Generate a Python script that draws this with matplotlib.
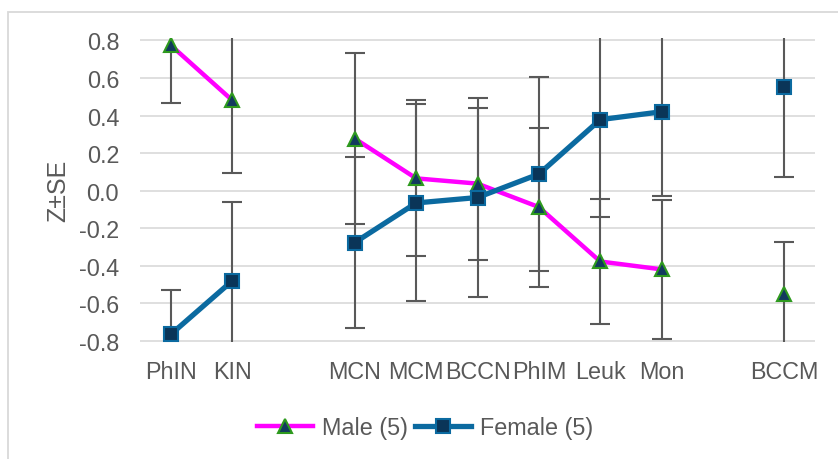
import numpy as np
import matplotlib.pyplot as plt
from matplotlib.patches import Rectangle

plt.rcParams['font.family'] = ['Liberation Sans', 'DejaVu Sans']

categories = ['PhIN', 'KIN', '', 'MCN', 'MCM', 'BCCN', 'PhIM', 'Leuk', 'Mon', '', 'BCCM']
male = [0.775, 0.482, np.nan, 0.277, 0.065, 0.037, -0.088, -0.378, -0.42, np.nan, -0.55]
male_se = [0.307, 0.39, np.nan, 0.457, 0.415, 0.405, 0.424, 0.334, 0.37, np.nan, 0.276]
female = [-0.767, -0.482, np.nan, -0.277, -0.066, -0.037, 0.088, 0.378, 0.42, np.nan, 0.55]
female_se = [0.235, 0.42, np.nan, 0.457, 0.525, 0.53, 0.517, 0.52, 0.45, np.nan, 0.48]
yticks = [-0.8, -0.6, -0.4, -0.2, 0.0, 0.2, 0.4, 0.6, 0.8]

x = np.arange(len(categories))

fig = plt.figure(figsize=(8.38, 4.6), dpi=100)
ax = fig.add_axes([140 / 838, 1 - 343 / 460, 675 / 838, 304 / 460])

grey = '#595959'
err_kw = dict(fmt='none', ecolor=grey, elinewidth=1.5, capsize=7, capthick=1.5, zorder=2)
ax.errorbar(x, male, yerr=male_se, **err_kw)
ax.errorbar(x, female, yerr=female_se, **err_kw)

ax.plot(x, male, color='#FF00FF', lw=3.2, marker='^', ms=10, mfc='#123A5E',
        mec='#2E9A1E', mew=1.5, label='Male (5)', zorder=3)
ax.plot(x, female, color='#0B6AA0', lw=3.8, marker='s', ms=9.5, mfc='#0A3558',
        mec='#0B6AA0', mew=1.5, label='Female (5)', zorder=3)

ax.set_xlim(-0.5, len(categories) - 0.5)
ax.set_ylim(-0.807, 0.813)
ax.set_yticks(yticks)
ax.set_yticklabels([f'{v:.1f}' for v in yticks])
ax.set_xticks(x)
ax.set_xticklabels(categories)
ax.tick_params(length=0, labelsize=16.8, labelcolor=grey)
ax.tick_params(axis='y', pad=15)
ax.tick_params(axis='x', pad=13)
ax.grid(axis='y', color='#D9D9D9', lw=1.2)
ax.set_axisbelow(True)
for s in ax.spines.values():
    s.set_visible(False)

ax.set_ylabel('Z±SE', fontsize=18, color=grey, labelpad=6)

ax.legend(loc='center', bbox_to_anchor=(425 / 838, 1 - 429 / 460),
          bbox_transform=fig.transFigure, ncol=2, frameon=False,
          fontsize=16.8, labelcolor=grey, handlelength=2.4,
          handletextpad=0.4, columnspacing=0.3)

# outer chart border
fig.add_artist(Rectangle((8 / 838, -0.1), 1.0, 1.1 - 13 / 460, transform=fig.transFigure,
                         fill=False, edgecolor='#D9D9D9', lw=1.3))

fig.savefig('out.png', dpi=100)
